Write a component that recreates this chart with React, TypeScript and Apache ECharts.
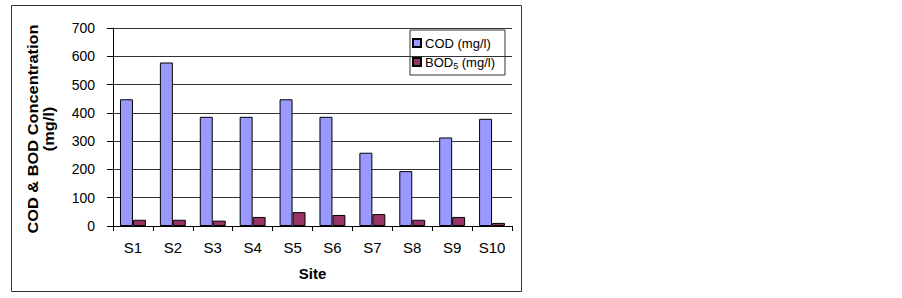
import React, { useEffect, useRef } from "react";
import * as echarts from "echarts";

const sites = ["S1", "S2", "S3", "S4", "S5", "S6", "S7", "S8", "S9", "S10"];
const codValues = [448, 578, 386, 386, 448, 386, 259, 194, 313, 379];
const bodValues = [22, 22, 19, 32, 49, 39, 42, 22, 32, 11];
const yTicks = { min: 0, max: 700, interval: 100 };

const FONT = "'Liberation Sans', Arial, sans-serif";

export default function App() {
  const ref = useRef<HTMLDivElement>(null);
  useEffect(() => {
    document.body.style.margin = "0";
    const chart = echarts.init(ref.current!, undefined, { renderer: "svg" });
    chart.setOption({
      animation: false,
      backgroundColor: "#fff",
      textStyle: { fontFamily: FONT },
      graphic: [
        {
          type: "rect",
          shape: { x: 11.5, y: 5.5, width: 510, height: 286 },
          style: { fill: "none", stroke: "#333", lineWidth: 1 },
          silent: true,
        },
        {
          type: "text",
          x: 41,
          y: 129,
          rotation: Math.PI / 2,
          scaleX: 1.17,
          style: {
            text: "COD & BOD Concentration\n(mg/l)",
            font: `bold 14px ${FONT}`,
            fill: "#000",
            align: "center",
            verticalAlign: "middle",
            lineHeight: 16,
          },
        },
      ],
      grid: { left: 113, top: 28, right: 390, bottom: 72 },
      legend: {
        orient: "vertical",
        left: 410,
        top: 30,
        padding: [5, 10, 5, 2],
        itemWidth: 8,
        itemHeight: 8,
        itemGap: 3,
        borderColor: "#333",
        borderWidth: 1,
        icon: "rect",
        textStyle: {
          fontSize: 13,
          color: "#000",
          fontFamily: FONT,
          lineHeight: 16,
          padding: [0, 0, 0, -1],
          rich: {
            sub: { fontSize: 9, verticalAlign: "bottom", padding: [7, 0, 0, 0], fontFamily: FONT },
          },
        },
        formatter: (name: string) =>
          name === "BOD5 (mg/l)" ? "BOD{sub|5} (mg/l)" : name,
        data: ["COD (mg/l)", "BOD5 (mg/l)"],
      },
      xAxis: {
        type: "category",
        data: sites,
        name: "Site",
        nameLocation: "middle",
        nameGap: 40,
        nameTextStyle: { fontSize: 15, fontWeight: "bold", color: "#000", fontFamily: FONT },
        axisLine: { lineStyle: { color: "#000", width: 1 } },
        axisTick: { show: true, inside: false, length: 5, alignWithLabel: false, lineStyle: { color: "#000" } },
        axisLabel: { fontSize: 15, color: "#000", margin: 14, fontFamily: FONT },
      },
      yAxis: {
        type: "value",
        min: yTicks.min,
        max: yTicks.max,
        interval: yTicks.interval,
        axisLine: { show: true, lineStyle: { color: "#000", width: 1 } },
        axisTick: { show: true, length: 6, lineStyle: { color: "#000" } },
        axisLabel: { fontSize: 14, color: "#000", margin: 18, fontFamily: FONT },
        splitLine: { show: true, lineStyle: { color: "#333", width: 1 } },
      },
      series: [
        {
          name: "COD (mg/l)",
          type: "bar",
          data: codValues,
          barGap: "0%",
          barCategoryGap: "35%",
          itemStyle: { color: "#9999FF", borderColor: "#000", borderWidth: 1 },
        },
        {
          name: "BOD5 (mg/l)",
          type: "bar",
          data: bodValues,
          barGap: "0%",
          barCategoryGap: "35%",
          itemStyle: { color: "#993366", borderColor: "#000", borderWidth: 1 },
        },
      ],
    });
    return () => chart.dispose();
  }, []);
  return <div ref={ref} style={{ width: 902, height: 298 }} />;
}
